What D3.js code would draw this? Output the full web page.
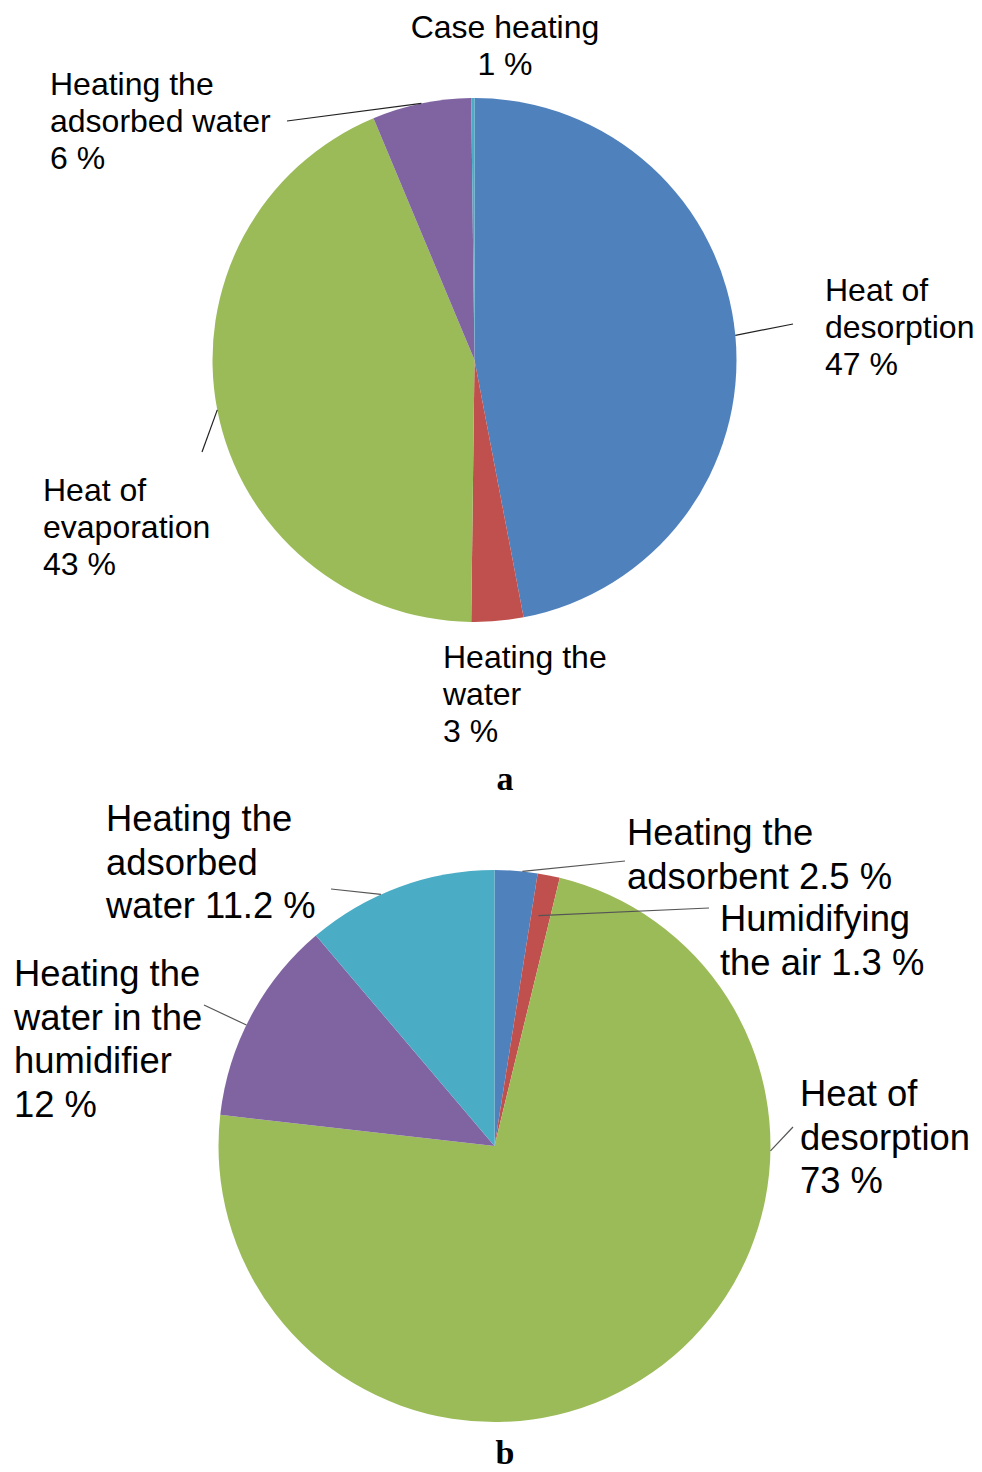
<!DOCTYPE html>
<html><head><meta charset="utf-8">
<script src="https://cdn.jsdelivr.net/npm/d3@7"></script>
<style>html,body{margin:0;padding:0;background:#fff;}svg{display:block;}</style>
</head><body>
<script>
// ---- Data ----
const categoriesA = ["Heat of desorption", "Heating the water", "Heat of evaporation", "Heating the adsorbed water", "Case heating"];
const valuesA = [47.0, 3.2, 43.5, 6.1, 0.2];
const percentLabelsA = ["47 %", "3 %", "43 %", "6 %", "1 %"];

const categoriesB = ["Heating the adsorbent", "Humidifying the air", "Heat of desorption", "Heating the water in the humidifier", "Heating the adsorbed water"];
const valuesB = [2.5, 1.3, 73, 12, 11.2];
const percentLabelsB = ["2.5 %", "1.3 %", "73 %", "12 %", "11.2 %"];

const colorsA = ["#4F81BD", "#C0504D", "#9BBB59", "#8064A2", "#4BACC6"];
const colorsB = ["#4F81BD", "#C0504D", "#9BBB59", "#8064A2", "#4BACC6"];

// ---- Layout (positions/styles only) ----
const W = 982, H = 1472;
const svg = d3.select("body").append("svg").attr("width", W).attr("height", H)
  .style("font-family", "'Liberation Sans', Arial, sans-serif");
svg.append("rect").attr("width", W).attr("height", H).attr("fill", "#fff");

const labelLinesA = [
  ["Heat of", "desorption", percentLabelsA[0]],
  ["Heating the", "water", percentLabelsA[1]],
  ["Heat of", "evaporation", percentLabelsA[2]],
  ["Heating the", "adsorbed water", percentLabelsA[3]],
  ["Case heating", percentLabelsA[4]]
];
const labelLinesB = [
  ["Heating the", "adsorbent " + percentLabelsB[0]],
  ["Humidifying", "the air " + percentLabelsB[1]],
  ["Heat of", "desorption", percentLabelsB[2]],
  ["Heating the", "water in the", "humidifier", percentLabelsB[3]],
  ["Heating the", "adsorbed", "water " + percentLabelsB[4]]
];

const layoutA = {
  cx: 474.5, cy: 360, r: 262, fontSize: 32, lineH: 37,
  labels: [
    {x: 825, y: 301, anchor: "start", leader: {x: 793, y: 324}},
    {x: 443, y: 668, anchor: "start", leader: null},
    {x: 43, y: 501, anchor: "start", leader: {x: 202, y: 452}},
    {x: 50, y: 95, anchor: "start", leader: {x: 287, y: 121}},
    {x: 505, y: 38, anchor: "middle", leader: null}
  ],
  caption: {text: "a", x: 505, y: 790}
};
const layoutB = {
  cx: 494.5, cy: 1146, r: 276, fontSize: 36.4, lineH: 43.5,
  labels: [
    {x: 627, y: 845, anchor: "start", leader: {x: 625, y: 861, angle: 5.8, k: 1}},
    {x: 720, y: 931, anchor: "start", leader: {x: 709, y: 908, angle: 10.8, k: 0.85}},
    {x: 800, y: 1106, anchor: "start", leader: {x: 793, y: 1127, angle: 91, k: 1}},
    {x: 14, y: 986, anchor: "start", leader: {x: 204, y: 1005, angle: 296, k: 1}},
    {x: 106, y: 831, anchor: "start", leader: {x: 331, y: 889, angle: 335.7, k: 1}}
  ],
  caption: {text: "b", x: 505, y: 1464}
};

function drawPie(values, colors, lines, L, leaderColor) {
  const pie = d3.pie().sort(null).value(d => d).startAngle(0).endAngle(2 * Math.PI);
  const arcs = pie(values);
  const arc = d3.arc().innerRadius(0).outerRadius(L.r);
  const g = svg.append("g").attr("transform", `translate(${L.cx},${L.cy})`);
  g.selectAll("path").data(arcs).join("path")
    .attr("d", arc).attr("fill", (d, i) => colors[i]);

  arcs.forEach((d, i) => {
    const lab = L.labels[i];
    if (!lab.leader) return;
    const ang = lab.leader.angle !== undefined ? lab.leader.angle * Math.PI / 180 : (d.startAngle + d.endAngle) / 2;
    const k = lab.leader.k !== undefined ? lab.leader.k : 1;
    const px = L.cx + Math.sin(ang) * L.r * k;
    const py = L.cy - Math.cos(ang) * L.r * k;
    svg.append("line").attr("x1", lab.leader.x).attr("y1", lab.leader.y)
      .attr("x2", px).attr("y2", py)
      .attr("stroke", leaderColor).attr("stroke-width", 1.2);
  });

  arcs.forEach((d, i) => {
    const lab = L.labels[i];
    const t = svg.append("text").attr("x", lab.x).attr("y", lab.y)
      .attr("text-anchor", lab.anchor).attr("font-size", L.fontSize).attr("fill", "#000");
    lines[i].forEach((s, j) => {
      t.append("tspan").attr("x", lab.x).attr("y", lab.y + j * L.lineH).text(s);
    });
  });

  svg.append("text").attr("x", L.caption.x).attr("y", L.caption.y)
    .attr("text-anchor", "middle").attr("font-family", "'Liberation Serif', 'Times New Roman', serif")
    .attr("font-weight", "bold").attr("font-size", 34).attr("fill", "#000").text(L.caption.text);
}

drawPie(valuesA, colorsA, labelLinesA, layoutA, "#222");
drawPie(valuesB, colorsB, labelLinesB, layoutB, "#555");
</script>
</body></html>
